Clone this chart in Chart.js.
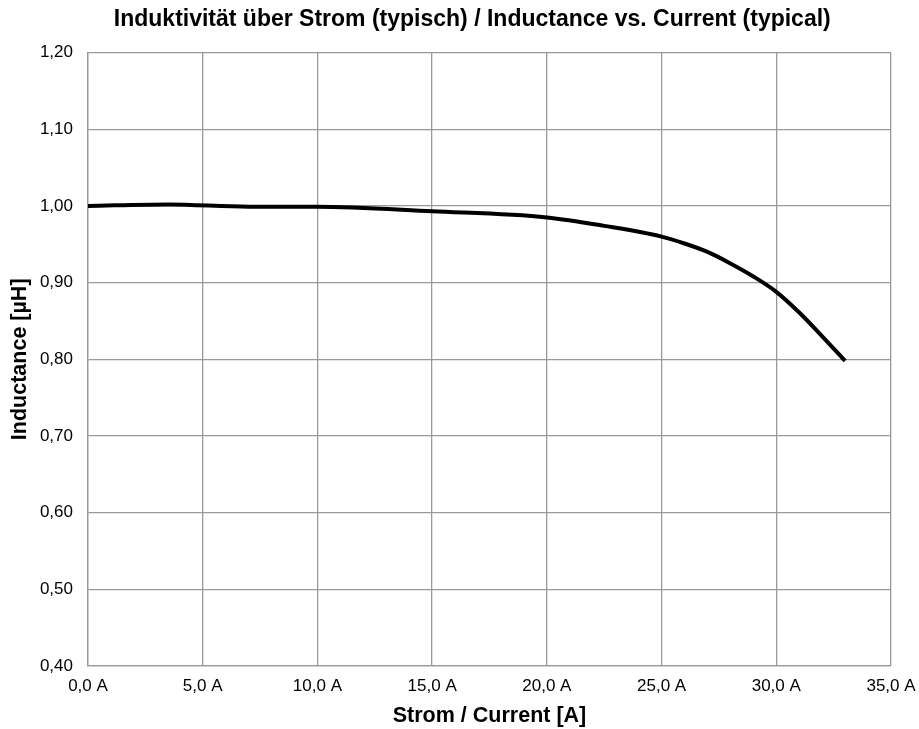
<!DOCTYPE html>
<html>
<head>
<meta charset="utf-8">
<script src="https://cdn.jsdelivr.net/npm/chart.js@4"></script>
<style>
  html, body { margin: 0; padding: 0; background: #fff; }
  #wrap { width: 919px; height: 729px; }
</style>
</head>
<body>
<div id="wrap"><canvas id="chart"></canvas></div>
<script>
var current = [0, 3.5, 7, 10, 15, 20, 22.5, 25, 26, 27, 28, 29, 30, 31, 32, 33]
var inductance = [1.000, 1.002, 0.999, 0.999, 0.993, 0.985, 0.974, 0.960, 0.951, 0.940, 0.925, 0.908, 0.888, 0.861, 0.830, 0.798]
var xTicks = [0, 5, 10, 15, 20, 25, 30, 35]
var yTicks = [0.4, 0.5, 0.6, 0.7, 0.8, 0.9, 1.0, 1.1, 1.2]

window.onload = function() {
    showChart()
}

function showChart() {
    var points = []
    current.forEach((c, i) => {
        points.push({ x: c, y: inductance[i] })
    })

    var ctx = document.getElementById('chart').getContext('2d')
    new Chart(ctx, {
        type: 'line',
        data: {
            datasets: [{
                data: points,
                borderColor: '#000',
                borderWidth: 4,
                pointRadius: 0,
                fill: false,
                cubicInterpolationMode: 'monotone'
            }]
        },
        options: {
            responsive: true,
            maintainAspectRatio: false,
            animation: false,
            layout: { padding: { left: 0, right: 0, top: 6, bottom: 0 } },
            plugins: {
                legend: { display: false },
                tooltip: { enabled: false },
                title: {
                    display: true,
                    // leading spaces nudge the centred title right, like the original
                    text: '    Induktivität über Strom (typisch) / Inductance vs. Current (typical)',
                    color: '#000',
                    font: { family: 'Liberation Sans', size: 23, weight: 'bold' },
                    padding: { top: 0, bottom: 19 }
                }
            },
            scales: {
                x: {
                    type: 'linear',
                    min: 0,
                    max: 35,
                    afterBuildTicks: axis => { axis.ticks = xTicks.map(v => ({ value: v })) },
                    afterFit: axis => {
                        axis.height = 63
                        axis.paddingRight = 28
                    },
                    grid: { color: '#999', lineWidth: 1.3, drawTicks: false },
                    border: { color: '#999', width: 1.3 },
                    ticks: {
                        color: '#000',
                        padding: 10,
                        maxRotation: 0,
                        font: { family: 'Liberation Sans', size: 17 },
                        callback: v => v.toFixed(1).replace('.', ',') + ' A'
                    },
                    title: {
                        display: true,
                        text: 'Strom / Current [A]',
                        color: '#000',
                        font: { family: 'Liberation Sans', size: 21.5, weight: 'bold' },
                        padding: { top: 0, bottom: 0 }
                    }
                },
                y: {
                    min: 0.4,
                    max: 1.2,
                    afterBuildTicks: axis => { axis.ticks = yTicks.map(v => ({ value: v })) },
                    afterFit: axis => { axis.width = 88 },
                    grid: { color: '#999', lineWidth: 1.3, drawTicks: false },
                    border: { color: '#999', width: 1.3 },
                    ticks: {
                        color: '#000',
                        padding: 15,
                        font: { family: 'Liberation Sans', size: 17 },
                        callback: v => v.toFixed(2).replace('.', ',')
                    },
                    title: {
                        display: true,
                        text: 'Inductance [µH]',
                        color: '#000',
                        font: { family: 'Liberation Sans', size: 21.5, weight: 'bold' },
                        padding: { top: 7, bottom: 0 }
                    }
                }
            }
        }
    })
}
</script>
</body>
</html>
